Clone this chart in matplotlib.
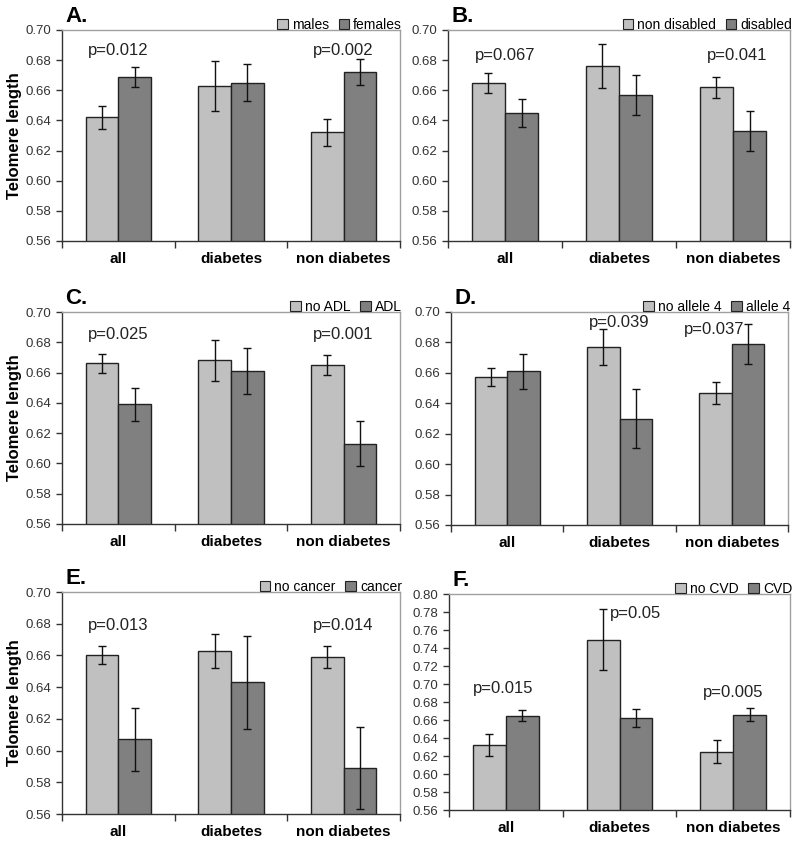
import matplotlib
matplotlib.use("Agg")
import matplotlib.pyplot as plt
from matplotlib.patches import Patch
import numpy as np

plt.rcParams['font.family'] = ['Liberation Sans', 'DejaVu Sans']

categories = ["all", "diabetes", "non diabetes"]

panel_labels = ["A.", "B.", "C.", "D.", "E.", "F."]
legend_a = [["males", "females"], ["non disabled", "disabled"], ["no ADL", "ADL"],
            ["no allele 4", "allele 4"], ["no cancer", "cancer"], ["no CVD", "CVD"]]

# values: light (first group) and dark (second group)
light_vals = [[0.642, 0.663, 0.632],
              [0.665, 0.676, 0.662],
              [0.666, 0.668, 0.665],
              [0.657, 0.677, 0.647],
              [0.660, 0.663, 0.659],
              [0.632, 0.749, 0.625]]
light_err = [[0.0075, 0.0165, 0.0088],
             [0.0066, 0.0148, 0.0071],
             [0.0061, 0.0135, 0.0068],
             [0.0059, 0.0117, 0.0072],
             [0.0057, 0.0107, 0.0068],
             [0.0122, 0.0338, 0.0128]]
dark_vals = [[0.669, 0.665, 0.672],
             [0.645, 0.657, 0.633],
             [0.639, 0.661, 0.613],
             [0.661, 0.630, 0.679],
             [0.607, 0.643, 0.589],
             [0.665, 0.662, 0.666]]
dark_err = [[0.0066, 0.0124, 0.0086],
            [0.0095, 0.0131, 0.0131],
            [0.0109, 0.015, 0.015],
            [0.0116, 0.0193, 0.0129],
            [0.0201, 0.0293, 0.0258],
            [0.0056, 0.0102, 0.0073]]

# p-value annotations: (category index, x offset, y, text)
pvals = [[(0, 0.0, 0.6867, "p=0.012"), (2, 0.0, 0.6867, "p=0.002")],
         [(0, 0.0, 0.6834, "p=0.067"), (2, 0.04, 0.6834, "p=0.041")],
         [(0, 0.0, 0.685, "p=0.025"), (2, 0.0, 0.685, "p=0.001")],
         [(1, 0.0, 0.6932, "p=0.039"), (2, -0.16, 0.6888, "p=0.037")],
         [(0, 0.0, 0.679, "p=0.013"), (2, 0.0, 0.679, "p=0.014")],
         [(0, -0.02, 0.6946, "p=0.015"), (1, 0.14, 0.7788, "p=0.05"), (2, 0.0, 0.691, "p=0.005")]]

ylims = [(0.56, 0.70)] * 5 + [(0.56, 0.80)]

W, H = 800, 846
boxes = [(62, 30, 400, 241), (448, 30, 790, 241),
         (62, 312, 400, 524), (451, 312, 788, 525),
         (62, 592, 400, 814), (449, 594, 790, 810)]

light_c = "#c0c0c0"
dark_c = "#808080"

fig = plt.figure(figsize=(8, 8.46), dpi=100)
bw = 0.29
x = np.arange(len(categories))
for i in range(6):
    l, t, r, b = boxes[i]
    ax = fig.add_axes([l / W, 1 - b / H, (r - l) / W, (b - t) / H])
    ax.bar(x - bw / 2, light_vals[i], bw, color=light_c, edgecolor="#222222", linewidth=1.0, zorder=2)
    ax.bar(x + bw / 2, dark_vals[i], bw, color=dark_c, edgecolor="#222222", linewidth=1.0, zorder=2)
    ax.errorbar(x - bw / 2, light_vals[i], yerr=light_err[i], fmt="none", ecolor="#111111",
                elinewidth=1.0, capsize=3, capthick=1.0, zorder=3)
    ax.errorbar(x + bw / 2, dark_vals[i], yerr=dark_err[i], fmt="none", ecolor="#111111",
                elinewidth=1.0, capsize=3, capthick=1.0, zorder=3)
    ax.set_xlim(-0.5, 2.5)
    ax.set_ylim(*ylims[i])
    ax.set_yticks(np.arange(ylims[i][0], ylims[i][1] + 0.001, 0.02))
    ax.yaxis.set_major_formatter(matplotlib.ticker.FormatStrFormatter("%.2f"))
    ax.tick_params(axis="y", labelsize=9.5, colors="#333333", length=4, width=1)
    ax.set_xticks([-0.5, 0.5, 1.5, 2.5])
    ax.set_xticklabels([])
    ax.tick_params(axis="x", length=5, width=1, color="#333333")
    ax.set_xticks(x, minor=True)
    ax.set_xticklabels(categories, minor=True, fontsize=11, fontweight="bold")
    ax.tick_params(axis="x", which="minor", length=0, pad=8)
    for s in ["top", "right"]:
        ax.spines[s].set_color("#a0a0a0")
        ax.spines[s].set_linewidth(1.0)
    for s in ["left", "bottom"]:
        ax.spines[s].set_color("#333333")
        ax.spines[s].set_linewidth(1.0)
    if i % 2 == 0:
        ax.set_ylabel("Telomere length", fontsize=12, fontweight="bold", labelpad=3)
    ax.text(0.01, 1.015, panel_labels[i], transform=ax.transAxes, fontsize=16,
            fontweight="bold", ha="left", va="bottom")
    handles = [Patch(facecolor=light_c, edgecolor="#222222", linewidth=0.8),
               Patch(facecolor=dark_c, edgecolor="#222222", linewidth=0.8)]
    ax.legend(handles, legend_a[i], loc="lower right", bbox_to_anchor=(1.01, 0.985),
              ncol=2, frameon=False, fontsize=10, handlelength=0.75, handleheight=0.75,
              handletextpad=0.3, columnspacing=0.7, borderpad=0.1, borderaxespad=0.0)
    for (ci, dx, yy, txt) in pvals[i]:
        ax.text(ci + dx, yy, txt, ha="center", va="center", fontsize=12, color="#222222")

fig.savefig("out.png", dpi=100, facecolor="white")
